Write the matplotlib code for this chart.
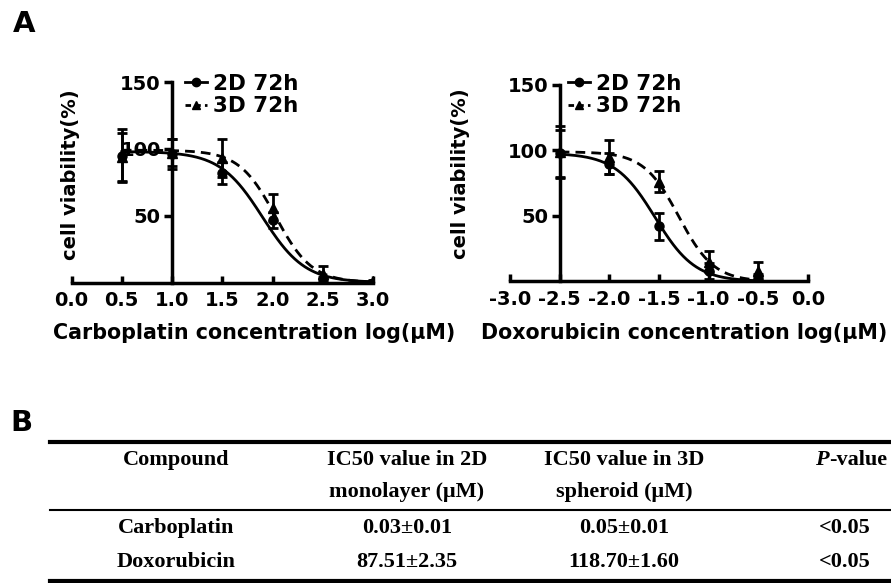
import numpy as np
import matplotlib.pyplot as plt
from matplotlib.lines import Line2D

plt.rcParams['font.family'] = 'DejaVu Sans'
plt.rcParams['font.weight'] = 'bold'

# Carboplatin (panel A, left)
carbo_x = [0.5, 1.0, 1.5, 2.0, 2.5, 3.0]
carbo_2d = [95, 96, 82, 47, 2, 0]
carbo_2d_err = [20, 11, 8, 6, 2, 1]
carbo_3d = [94, 97, 93, 56, 6, 1]
carbo_3d_err = [18, 10, 14, 10, 6, 1]

# Doxorubicin (panel A, right)
doxo_x = [-2.5, -2.0, -1.5, -1.0, -0.5]
doxo_2d = [98, 90, 42, 8, 3]
doxo_2d_err = [18, 8, 10, 6, 3]
doxo_3d = [99, 95, 76, 15, 8]
doxo_3d_err = [20, 13, 8, 8, 7]

# fitted curve parameters (top, bottom, logIC50, hill)
carbo_fit_2d = (98, 0, 1.90, 2.05)
carbo_fit_3d = (99, 0, 2.03, 2.4)
doxo_fit_2d = (98, 0, -1.54, 2.15)
doxo_fit_3d = (99, 0, -1.30, 2.45)

# table (panel B)
col_heads = ["Compound", "IC50 value in 2D\nmonolayer (\u03bcM)",
             "IC50 value in 3D\nspheroid (\u03bcM)", None]
compounds = ["Carboplatin", "Doxorubicin"]
ic50_2d = ["0.03\u00b10.01", "87.51\u00b12.35"]
ic50_3d = ["0.05\u00b10.01", "118.70\u00b11.60"]
p_values = ["<0.05", "<0.05"]


def logistic(x, top, bottom, logic50, hill):
    return bottom + (top - bottom) / (1 + 10 ** ((x - logic50) * hill))


fig = plt.figure(figsize=(8.91, 5.83), dpi=100)
W, H = 891, 583


def draw_panel(rect, xs, d2, e2, d3, e3, fit2, fit3, xlim, yaxis_x, xticks, xlabel, xlab_c, ylab_c, leg_pos):
    ax = fig.add_axes(rect)
    xx = np.linspace(xs[0], xs[-1], 300)
    ax.plot(xx, logistic(xx, *fit2), color='black', lw=2)
    ax.plot(xx, logistic(xx, *fit3), color='black', lw=2, ls=(0, (3.5, 2.2)))
    ax.errorbar(xs, d2, yerr=e2, fmt='o', color='black', ms=6.5, capsize=3.6, elinewidth=2, capthick=2)
    ax.errorbar(xs, d3, yerr=e3, fmt='^', color='black', ms=6.5, capsize=3.6, elinewidth=2, capthick=2)
    ax.set_xlim(*xlim)
    ax.set_ylim(0, 150)
    for s in ['top', 'right']:
        ax.spines[s].set_visible(False)
    ax.spines['left'].set_position(('data', yaxis_x))
    ax.spines['left'].set_linewidth(2.5)
    ax.spines['bottom'].set_linewidth(2.5)
    ax.spines['left'].set_zorder(0)
    ax.set_yticks([50, 100, 150])
    ax.set_xticks(xticks)
    ax.set_xticklabels([f"{t:.1f}" for t in xticks])
    ax.tick_params(axis='both', width=2.5, labelsize=14)
    ax.tick_params(axis='x', direction='in', length=5, pad=6)
    ax.tick_params(axis='y', direction='out', length=6, pad=2)
    ax.patch.set_alpha(0)
    fig.text(xlab_c[0] / W, 1 - xlab_c[1] / H, xlabel, ha='center', va='center', fontsize=14.9, fontweight='bold')
    fig.text(ylab_c[0] / W, 1 - ylab_c[1] / H, "cell viability(%)", ha='center', va='center',
             rotation=90, fontsize=14, fontweight='bold')
    handles = [Line2D([], [], color='black', lw=2, marker='o', ms=6),
               Line2D([], [], color='black', lw=2, ls=(0, (2, 1.5)), marker='^', ms=6)]
    fig.legend(handles, ["2D 72h", "3D 72h"], loc='upper left',
               bbox_to_anchor=(leg_pos[0] / W, 1 - leg_pos[1] / H), frameon=False,
               handlelength=1.0, handletextpad=0.3, labelspacing=0.1,
               borderpad=0, borderaxespad=0, prop={'weight': 'bold', 'size': 15.5})
    return ax


draw_panel([71.5 / W, 1 - 282.5 / H, 301.5 / W, 200.5 / H], carbo_x, carbo_2d, carbo_2d_err,
           carbo_3d, carbo_3d_err, carbo_fit_2d, carbo_fit_3d, (0, 3), 1.0,
           [0.0, 0.5, 1.0, 1.5, 2.0, 2.5, 3.0], "Carboplatin concentration log(\u03bcM)",
           (254, 333), (70, 175), (185, 74))
draw_panel([510 / W, 1 - 281.5 / H, 298 / W, 196.5 / H], doxo_x, doxo_2d, doxo_2d_err,
           doxo_3d, doxo_3d_err, doxo_fit_2d, doxo_fit_3d, (-3, 0), -2.5,
           [-3.0, -2.5, -2.0, -1.5, -1.0, -0.5, 0.0], "Doxorubicin concentration log(\u03bcM)",
           (684, 333), (460, 174), (568, 74))

fig.text(24 / W, 1 - 24 / H, "A", ha='center', va='center', fontsize=21, fontweight='bold')
fig.text(21 / W, 1 - 423 / H, "B", ha='center', va='center', fontsize=21, fontweight='bold')

# table
serif = 'Liberation Serif'
col_x = [176, 407, 624, 845]
for y, lw in [(441.5, 3), (510, 1.5), (580.5, 3)]:
    fig.add_artist(Line2D([50 / W, 1], [1 - y / H] * 2, color='black', lw=lw))
for cx, head in zip(col_x, col_heads):
    if head is None:
        continue
    for i, ln in enumerate(head.split("\n")):
        fig.text(cx / W, 1 - (460 + 32 * i) / H, ln, ha='center', va='center', fontsize=16,
                 fontweight='bold', family=serif)
# P-value header: italic P
fig.text(829 / W, 1 - 460 / H, "P", ha='right', va='center', fontsize=16,
         fontweight='bold', style='italic', family=serif)
fig.text(829 / W, 1 - 460 / H, "-value", ha='left', va='center', fontsize=16,
         fontweight='bold', family=serif)

rows = list(zip(compounds, ic50_2d, ic50_3d, p_values))
for r, row in enumerate(rows):
    y = 528 + 34 * r
    for cx, val in zip(col_x, row):
        fig.text(cx / W, 1 - y / H, val, ha='center', va='center', fontsize=16,
                 fontweight='bold', family=serif)

fig.savefig('out.png', dpi=100)
